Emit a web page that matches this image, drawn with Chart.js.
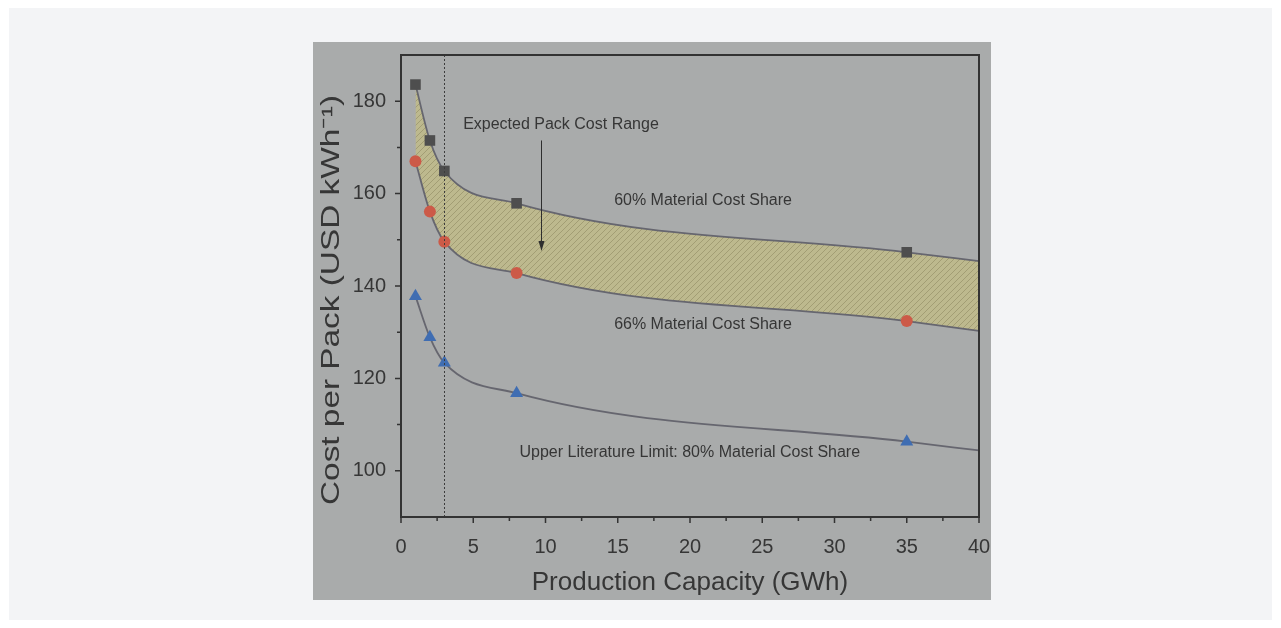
<!DOCTYPE html>
<html>
<head>
<meta charset="utf-8">
<script src="https://cdn.jsdelivr.net/npm/chart.js@4.4.1/dist/chart.umd.min.js"></script>
<style>
  html, body { margin: 0; padding: 0; background: #fff; }
  #panel { position: absolute; left: 9px; top: 8px; width: 1263px; height: 612px; background: #f3f4f6; }
  #box { position: absolute; left: 313px; top: 42px; width: 678px; height: 558px; background: #a9abab; }
  #box canvas { position: absolute; left: 0; top: 0; }
</style>
</head>
<body>
<div id="panel"></div>
<div id="box"><canvas id="costChart" width="678" height="558"></canvas></div>
<script>
// values (last point = where the fitted curve ends at 40 GWh)
const capacity = [1, 2, 3, 8, 35, 40];
const share60 = [183.6, 171.5, 164.9, 157.9, 147.3, 145.4];
const share66 = [167.0, 156.1, 149.6, 142.8, 132.4, 130.3];
const share80 = [137.8, 128.9, 123.4, 116.8, 106.3, 104.4];
const xTicks = [0, 5, 10, 15, 20, 25, 30, 35, 40];
const yTicks = [100, 120, 140, 160, 180];

const textColor = '#363636';
const lineColor = '#66666f';
const fontFamily = '"Liberation Sans", Arial, sans-serif';
const yTitle = 'Cost per Pack (USD kWh\u207B\u00B9)';

// hatched fill for the expected range
function makeHatch() {
  const c = document.createElement('canvas');
  c.width = 6; c.height = 6;
  const g = c.getContext('2d');
  g.fillStyle = '#bdb98e';
  g.fillRect(0, 0, 6, 6);
  g.strokeStyle = '#a29d74';
  g.lineWidth = 1;
  g.beginPath();
  g.moveTo(0, 6); g.lineTo(6, 0);
  g.moveTo(-1, 1); g.lineTo(1, -1);
  g.moveTo(5, 7); g.lineTo(7, 5);
  g.stroke();
  return g.createPattern(c, 'repeat');
}
const hatch = makeHatch();

function toPoints(ys) {
  return capacity.map((x, i) => ({ x: x, y: ys[i] }));
}
const markerSize = (r) => capacity.map((x, i) => (i < capacity.length - 1 ? r : 0));

// frame, ticks, dotted line and text labels
const decorations = {
  id: 'decorations',
  afterDatasetsDraw(chart) {
    const { ctx, chartArea: a, scales: { x, y } } = chart;
    ctx.save();
    // vertical dotted line at 3 GWh
    ctx.strokeStyle = '#3c3c3c';
    ctx.lineWidth = 1;
    ctx.setLineDash([2, 2]);
    ctx.beginPath();
    ctx.moveTo(Math.round(x.getPixelForValue(3)) + 0.5, a.top);
    ctx.lineTo(Math.round(x.getPixelForValue(3)) + 0.5, a.bottom);
    ctx.stroke();
    ctx.setLineDash([]);

    // frame
    ctx.strokeStyle = '#333';
    ctx.lineWidth = 2;
    ctx.strokeRect(a.left, a.top, a.right - a.left, a.bottom - a.top);

    // ticks
    ctx.lineWidth = 1.5;
    ctx.beginPath();
    for (let v = 0; v <= 40; v += 2.5) {
      const px = x.getPixelForValue(v);
      const len = v % 5 === 0 ? 6 : 4;
      ctx.moveTo(px, a.bottom); ctx.lineTo(px, a.bottom + len);
    }
    for (let v = 100; v <= 180; v += 10) {
      const py = y.getPixelForValue(v);
      const len = v % 20 === 0 ? 6 : 4;
      ctx.moveTo(a.left, py); ctx.lineTo(a.left - len, py);
    }
    ctx.stroke();

    // labels
    ctx.fillStyle = textColor;
    ctx.font = '16px ' + fontFamily;
    ctx.textAlign = 'left';
    ctx.textBaseline = 'middle';
    ctx.fillText('Expected Pack Cost Range', x.getPixelForValue(4.3), y.getPixelForValue(175.0));
    ctx.fillText('60% Material Cost Share', x.getPixelForValue(14.75), y.getPixelForValue(158.5));
    ctx.fillText('66% Material Cost Share', x.getPixelForValue(14.75), y.getPixelForValue(131.6));
    ctx.fillText('Upper Literature Limit: 80% Material Cost Share', x.getPixelForValue(8.2), y.getPixelForValue(103.9));

    // arrow
    const ax = Math.round(x.getPixelForValue(9.7)) + 0.5;
    const ay1 = y.getPixelForValue(171.5);
    const ay2 = y.getPixelForValue(147.6);
    ctx.strokeStyle = '#2e2e2e';
    ctx.lineWidth = 1;
    ctx.beginPath();
    ctx.moveTo(ax, ay1); ctx.lineTo(ax, ay2 - 8);
    ctx.stroke();
    ctx.fillStyle = '#2e2e2e';
    ctx.beginPath();
    ctx.moveTo(ax, ay2);
    ctx.lineTo(ax - 3, ay2 - 10);
    ctx.lineTo(ax + 3, ay2 - 10);
    ctx.closePath();
    ctx.fill();

    // y axis title, stretched along its length like the source figure
    ctx.fillStyle = textColor;
    ctx.font = '26px ' + fontFamily;
    ctx.textAlign = 'center';
    ctx.textBaseline = 'alphabetic';
    ctx.translate(26, 258);
    ctx.rotate(-Math.PI / 2);
    ctx.scale(410 / ctx.measureText(yTitle).width, 1);
    ctx.fillText(yTitle, 0, 0);
    ctx.restore();
  }
};

new Chart(document.getElementById('costChart'), {
  type: 'line',
  data: {
    datasets: [
      {
        label: '60% Material Cost Share',
        data: toPoints(share60),
        borderColor: lineColor,
        borderWidth: 1.8,
        fill: false,
        cubicInterpolationMode: 'monotone',
        pointStyle: 'rect',
        pointRadius: markerSize(7.5),
        pointBackgroundColor: '#4e4e4e',
        pointBorderColor: '#4e4e4e',
        pointBorderWidth: 0
      },
      {
        label: '66% Material Cost Share',
        data: toPoints(share66),
        borderColor: lineColor,
        borderWidth: 1.8,
        backgroundColor: hatch,
        fill: '-1',
        cubicInterpolationMode: 'monotone',
        pointStyle: 'circle',
        pointRadius: markerSize(6),
        pointBackgroundColor: '#cc5a48',
        pointBorderColor: '#cc5a48',
        pointBorderWidth: 0
      },
      {
        label: 'Upper Literature Limit: 80% Material Cost Share',
        data: toPoints(share80),
        borderColor: lineColor,
        borderWidth: 1.8,
        fill: false,
        cubicInterpolationMode: 'monotone',
        pointStyle: 'triangle',
        pointRadius: markerSize(7.5),
        pointBackgroundColor: '#3f6db2',
        pointBorderColor: '#3f6db2',
        pointBorderWidth: 0
      }
    ]
  },
  options: {
    responsive: false,
    animation: false,
    layout: { padding: { top: 13, right: 12, left: 0, bottom: 0 } },
    plugins: {
      legend: { display: false },
      tooltip: { enabled: false }
    },
    scales: {
      x: {
        type: 'linear',
        min: 0,
        max: 40,
        afterBuildTicks: (s) => { s.ticks = xTicks.map((v) => ({ value: v })); },
        afterFit: (s) => { s.height = 83; s.paddingLeft = 0; s.paddingRight = 0; },
        grid: { display: true, drawOnChartArea: false, drawTicks: true, tickLength: 6, color: 'rgba(0,0,0,0)' },
        border: { display: false },
        ticks: { color: textColor, font: { family: fontFamily, size: 20 }, padding: 12, maxRotation: 0 },
        title: {
          display: true,
          text: 'Production Capacity (GWh)',
          color: textColor,
          font: { family: fontFamily, size: 26 },
          padding: { top: 2, bottom: 2 }
        }
      },
      y: {
        type: 'linear',
        min: 90,
        max: 190,
        afterBuildTicks: (s) => { s.ticks = yTicks.map((v) => ({ value: v })); },
        afterFit: (s) => { s.width = 88; s.paddingTop = 0; s.paddingBottom = 0; },
        grid: { display: true, drawOnChartArea: false, drawTicks: true, tickLength: 6, color: 'rgba(0,0,0,0)' },
        border: { display: false },
        ticks: { color: textColor, font: { family: fontFamily, size: 20 }, padding: 9 }
      }
    }
  },
  plugins: [decorations]
});
</script>
</body>
</html>
